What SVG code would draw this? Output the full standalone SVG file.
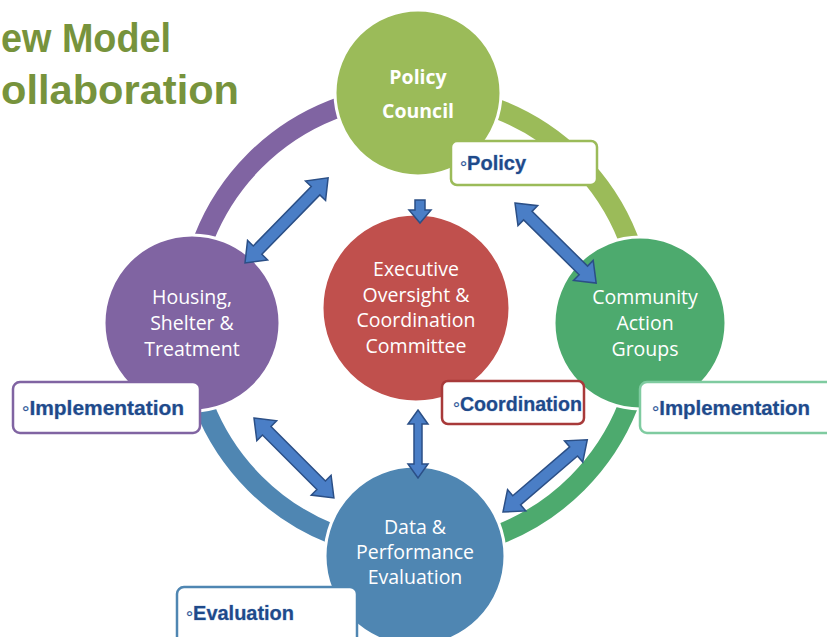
<svg xmlns="http://www.w3.org/2000/svg" width="827" height="637" viewBox="0 0 827 637">
<style>
.ring{fill:none;stroke-width:20}
.node{stroke:#fff;stroke-width:3}
.nt{font-family:"Open Sans","Liberation Sans",sans-serif;font-size:19.5px;fill:#fff;text-anchor:middle}
.arr{fill:#4A7EC6;stroke:#2B4F86;stroke-width:1.5}
.box{fill:#fff;stroke-width:2.5}
.lt{font-family:"Liberation Sans",Arial,sans-serif;font-weight:bold;font-size:20px;fill:#1F4A8A;stroke:#9DB6DA;stroke-width:0.6;paint-order:stroke}
.title{font-family:"Liberation Sans",Arial,sans-serif;font-weight:bold;font-size:40px;fill:#77933C}
</style>
<rect width="827" height="637" fill="#fff"/>
<g id="title">
<text class="title" x="1" y="52" textLength="170" lengthAdjust="spacingAndGlyphs">ew Model</text>
<text class="title" x="1" y="104" textLength="238" lengthAdjust="spacingAndGlyphs">ollaboration</text>
</g>
<g id="ring">
<path class="ring" stroke="#9BBB59" d="M416 94 A228 228 0 0 1 644 322"/>
<path class="ring" stroke="#4DAA6E" d="M644 322 A228 228 0 0 1 416 550"/>
<path class="ring" stroke="#4F86B2" d="M416 550 A228 228 0 0 1 188 322"/>
<path class="ring" stroke="#8064A2" d="M188 322 A228 228 0 0 1 416 94"/>
</g>
<g id="policy">
<circle class="node" cx="418" cy="93" r="83" fill="#9BBB59"/>
<text class="nt" x="418" y="84" font-weight="bold" font-size="18.5">Policy</text>
<text class="nt" x="418" y="118" font-weight="bold" font-size="18.5">Council</text>
</g>
<g id="executive">
<circle class="node" cx="416" cy="308" r="94" fill="#C0504D"/>
<text class="nt" x="416" y="276">Executive</text>
<text class="nt" x="416" y="302">Oversight &amp;</text>
<text class="nt" x="416" y="327">Coordination</text>
<text class="nt" x="416" y="353">Committee</text>
</g>
<g id="housing">
<circle class="node" cx="192" cy="323" r="88" fill="#8064A2"/>
<text class="nt" x="192" y="304">Housing,</text>
<text class="nt" x="192" y="330">Shelter &amp;</text>
<text class="nt" x="192" y="356">Treatment</text>
</g>
<g id="community">
<circle class="node" cx="640" cy="323" r="86" fill="#4DAA6E"/>
<text class="nt" x="645" y="304">Community</text>
<text class="nt" x="645" y="330">Action</text>
<text class="nt" x="645" y="356">Groups</text>
</g>
<g id="data">
<circle class="node" cx="415" cy="556" r="90" fill="#4F86B2"/>
<text class="nt" x="415" y="534">Data &amp;</text>
<text class="nt" x="415" y="559">Performance</text>
<text class="nt" x="415" y="584">Evaluation</text>
</g>
<g id="connectors">
<path class="arr" transform="translate(245 263) rotate(-45.7)" d="M0 0 L18 -14 L18 -6 L101 -6 L101 -14 L119 0 L101 14 L101 6 L18 6 L18 14 Z"/>
<path class="arr" transform="translate(515 203) rotate(44.6)" d="M0 0 L18 -14 L18 -6 L96 -6 L96 -14 L114 0 L96 14 L96 6 L18 6 L18 14 Z"/>
<path class="arr" transform="translate(254 418) rotate(45)" d="M0 0 L18 -14 L18 -6 L95 -6 L95 -14 L113 0 L95 14 L95 6 L18 6 L18 14 Z"/>
<path class="arr" transform="translate(503 512) rotate(-40.6)" d="M0 0 L18 -14 L18 -6 L93 -6 L93 -14 L111 0 L93 14 L93 6 L18 6 L18 14 Z"/>
<path class="arr" transform="translate(418 410) rotate(90)" d="M0 0 L14 -10 L14 -4 L54 -4 L54 -10 L68 0 L54 10 L54 4 L14 4 L14 10 Z"/>
<path class="arr" d="M415 200 L425 200 L425 210 L431 210 L420 223 L409 210 L415 210 Z"/>
</g>
<g id="label-policy">
<rect class="box" x="451" y="141" width="146" height="44" rx="6" stroke="#9BBB59"/>
<text class="lt" x="460" y="170">◦Policy</text>
</g>
<g id="label-impl-left">
<rect class="box" x="13" y="382" width="187" height="51" rx="7" stroke="#8064A2"/>
<text class="lt" x="22" y="415" textLength="162" lengthAdjust="spacingAndGlyphs">◦Implementation</text>
</g>
<g id="label-coordination">
<rect class="box" x="442" y="381" width="142" height="43" rx="6" stroke="#A83A3A"/>
<text class="lt" x="453" y="411" textLength="129" lengthAdjust="spacingAndGlyphs">◦Coordination</text>
</g>
<g id="label-impl-right">
<rect class="box" x="640" y="382" width="200" height="51" rx="7" stroke="#7FCBA0"/>
<text class="lt" x="652" y="415" textLength="158" lengthAdjust="spacingAndGlyphs">◦Implementation</text>
</g>
<g id="label-evaluation">
<rect class="box" x="177" y="587" width="180" height="60" rx="7" stroke="#4F86B2"/>
<text class="lt" x="186" y="620" textLength="108" lengthAdjust="spacingAndGlyphs">◦Evaluation</text>
</g>
</svg>
